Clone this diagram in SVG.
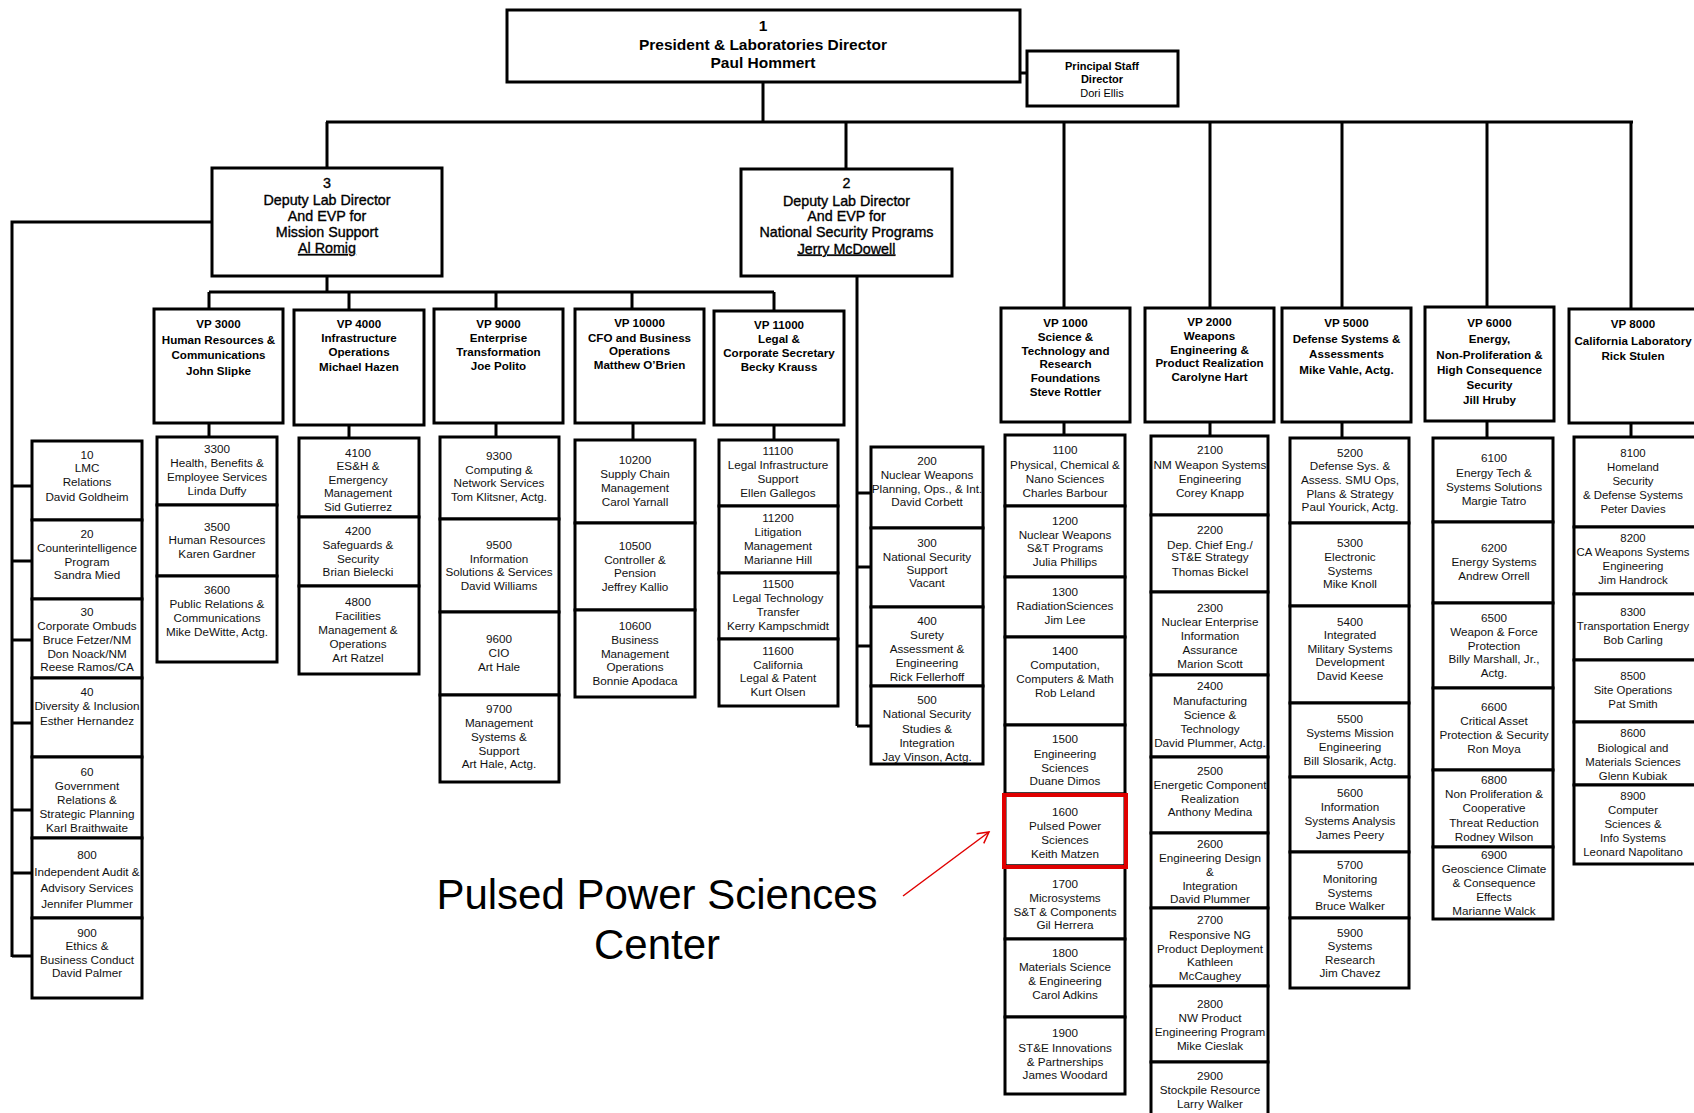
<svg xmlns="http://www.w3.org/2000/svg" width="1694" height="1113" viewBox="0 0 1694 1113">
<style>
.b{fill:#fff;stroke:#000;stroke-width:3}
.c{stroke:#000;stroke-width:3;fill:none}
text{font-family:"Liberation Sans",Arial,sans-serif;text-anchor:middle;fill:#111}
.t{font-size:11.7px}
.t8{font-size:11.4px}
.vp{font-size:11.6px;font-weight:bold;fill:#000}
.dep{font-size:14.3px;fill:#000;stroke:#000;stroke-width:0.35}
.pres{font-size:15.5px;font-weight:bold;fill:#000}
.ps{font-size:11px;font-weight:bold;fill:#000}
.big{font-size:42px;fill:#000}
</style>
<defs>
<marker id="ah" markerWidth="14" markerHeight="14" refX="12" refY="7" orient="auto" markerUnits="userSpaceOnUse">
<path d="M1,1 L12,7 L1,13" fill="none" stroke="#e00000" stroke-width="1.5"/>
</marker>
</defs>
<rect width="1694" height="1113" fill="#fff"/>

<g id="connectors">
<path class="c" d="M763,82 V122 M326,122 H1633 M1020,73 H1027"/>
<path class="c" d="M327,122 V168 M846,122 V169 M1064,122 V308 M1210,122 V308 M1342,122 V308 M1487,122 V308 M1631,122 V309"/>
<path class="c" d="M327,276 V292 M209,292 H774 M209,292 V309 M349,292 V310 M496,292 V309 M632,292 V309 M774,292 V311"/>
<path class="c" d="M212,222 H12 V957 M12,486 H32 M12,561 H32 M12,640 H32 M12,723 H32 M12,810 H32 M12,873 H32 M12,956 H32"/>
<path class="c" d="M857,276 V726 M857,493 H871 M857,567 H871 M857,646 H871 M857,726 H871"/>
<path class="c" d="M209,423 V437 M349,425 V438 M496,423 V437 M633,423 V440 M774,425 V440"/>
<path class="c" d="M1064,422 V435 M1210,422 V436 M1342,422 V438 M1487,421 V438 M1631,423 V437"/>
<line x1="903" y1="896" x2="989" y2="832" stroke="#e00000" stroke-width="1.5" marker-end="url(#ah)"/>
</g>

<g id="n1"><rect class="b" x="507" y="10" width="513" height="72"/>
<text class="pres"><tspan x="763" y="31">1</tspan><tspan x="763" y="50">President &amp; Laboratories Director</tspan><tspan x="763" y="68">Paul Hommert</tspan></text></g>
<g id="nps"><rect class="b" x="1027" y="51" width="151" height="55"/>
<text class="ps"><tspan x="1102" y="69.5">Principal Staff</tspan><tspan x="1102" y="83">Director</tspan><tspan x="1102" y="96.5" font-weight="normal">Dori Ellis</tspan></text></g>

<g id="n3"><rect class="b" x="212" y="168" width="230" height="108"/>
<text class="dep"><tspan x="327" y="188">3</tspan><tspan x="327" y="205">Deputy Lab Director</tspan><tspan x="327" y="221">And EVP for</tspan><tspan x="327" y="237">Mission Support</tspan><tspan x="327" y="253" text-decoration="underline">Al Romig</tspan></text></g>
<g id="n2"><rect class="b" x="741" y="169" width="211" height="107"/>
<text class="dep"><tspan x="846.5" y="188">2</tspan><tspan x="846.5" y="205.5">Deputy Lab Director</tspan><tspan x="846.5" y="221">And EVP for</tspan><tspan x="846.5" y="237">National Security Programs</tspan><tspan x="846.5" y="253.5" text-decoration="underline">Jerry McDowell</tspan></text></g>

<g id="vp3000"><rect class="b" x="154" y="309" width="129" height="114"/>
<text class="vp"><tspan x="218.5" y="328">VP 3000</tspan><tspan x="218.5" y="344">Human Resources &amp;</tspan><tspan x="218.5" y="359">Communications</tspan><tspan x="218.5" y="375">John Slipke</tspan></text></g>
<g id="vp4000"><rect class="b" x="294" y="310" width="130" height="115"/>
<text class="vp"><tspan x="359" y="328">VP 4000</tspan><tspan x="359" y="342">Infrastructure</tspan><tspan x="359" y="356">Operations</tspan><tspan x="359" y="371">Michael Hazen</tspan></text></g>
<g id="vp9000"><rect class="b" x="434" y="309" width="129" height="114"/>
<text class="vp"><tspan x="498.5" y="328">VP 9000</tspan><tspan x="498.5" y="342">Enterprise</tspan><tspan x="498.5" y="356">Transformation</tspan><tspan x="498.5" y="370">Joe Polito</tspan></text></g>
<g id="vp10000"><rect class="b" x="575" y="309" width="129" height="114"/>
<text class="vp"><tspan x="639.5" y="327">VP 10000</tspan><tspan x="639.5" y="342">CFO and Business</tspan><tspan x="639.5" y="355">Operations</tspan><tspan x="639.5" y="369">Matthew O’Brien</tspan></text></g>
<g id="vp11000"><rect class="b" x="714" y="311" width="130" height="114"/>
<text class="vp"><tspan x="779" y="329">VP 11000</tspan><tspan x="779" y="343">Legal &amp;</tspan><tspan x="779" y="357">Corporate Secretary</tspan><tspan x="779" y="371">Becky Krauss</tspan></text></g>

<g id="vp1000"><rect class="b" x="1001" y="308" width="129" height="114"/>
<text class="vp"><tspan x="1065.5" y="327">VP 1000</tspan><tspan x="1065.5" y="341">Science &amp;</tspan><tspan x="1065.5" y="355">Technology and</tspan><tspan x="1065.5" y="368">Research</tspan><tspan x="1065.5" y="382">Foundations</tspan><tspan x="1065.5" y="396">Steve Rottler</tspan></text></g>
<g id="vp2000"><rect class="b" x="1145" y="308" width="129" height="114"/>
<text class="vp"><tspan x="1209.5" y="326">VP 2000</tspan><tspan x="1209.5" y="340">Weapons</tspan><tspan x="1209.5" y="354">Engineering &amp;</tspan><tspan x="1209.5" y="367">Product Realization</tspan><tspan x="1209.5" y="381">Carolyne Hart</tspan></text></g>
<g id="vp5000"><rect class="b" x="1282" y="308" width="129" height="114"/>
<text class="vp"><tspan x="1346.5" y="327">VP 5000</tspan><tspan x="1346.5" y="343">Defense Systems &amp;</tspan><tspan x="1346.5" y="358">Assessments</tspan><tspan x="1346.5" y="374">Mike Vahle, Actg.</tspan></text></g>
<g id="vp6000"><rect class="b" x="1425" y="307" width="129" height="114"/>
<text class="vp"><tspan x="1489.5" y="327">VP 6000</tspan><tspan x="1489.5" y="343">Energy,</tspan><tspan x="1489.5" y="359">Non-Proliferation &amp;</tspan><tspan x="1489.5" y="374">High Consequence</tspan><tspan x="1489.5" y="389">Security</tspan><tspan x="1489.5" y="404">Jill Hruby</tspan></text></g>
<g id="vp8000"><rect class="b" x="1569" y="309" width="131" height="114"/>
<text class="vp"><tspan x="1633" y="328">VP 8000</tspan><tspan x="1633" y="345">California Laboratory</tspan><tspan x="1633" y="360">Rick Stulen</tspan></text></g>

<g id="o10"><rect class="b" x="32" y="441" width="110" height="79"/><text class="t"><tspan x="87" y="459">10</tspan><tspan x="87" y="472">LMC</tspan><tspan x="87" y="486">Relations</tspan><tspan x="87" y="501">David Goldheim</tspan></text></g>
<g id="o20"><rect class="b" x="32" y="520" width="110" height="79"/><text class="t"><tspan x="87" y="538">20</tspan><tspan x="87" y="552">Counterintelligence</tspan><tspan x="87" y="566">Program</tspan><tspan x="87" y="579">Sandra Mied</tspan></text></g>
<g id="o30"><rect class="b" x="32" y="599" width="110" height="79"/><text class="t"><tspan x="87" y="616">30</tspan><tspan x="87" y="630">Corporate Ombuds</tspan><tspan x="87" y="644">Bruce Fetzer/NM</tspan><tspan x="87" y="658">Don Noack/NM</tspan><tspan x="87" y="671">Reese Ramos/CA</tspan></text></g>
<g id="o40"><rect class="b" x="32" y="678" width="110" height="79"/><text class="t"><tspan x="87" y="696">40</tspan><tspan x="87" y="710">Diversity &amp; Inclusion</tspan><tspan x="87" y="725">Esther Hernandez</tspan></text></g>
<g id="o60"><rect class="b" x="32" y="757" width="110" height="81"/><text class="t"><tspan x="87" y="776">60</tspan><tspan x="87" y="790">Government</tspan><tspan x="87" y="804">Relations &amp;</tspan><tspan x="87" y="818">Strategic Planning</tspan><tspan x="87" y="832">Karl Braithwaite</tspan></text></g>
<g id="o800"><rect class="b" x="32" y="838" width="110" height="80"/><text class="t"><tspan x="87" y="859">800</tspan><tspan x="87" y="876">Independent Audit &amp;</tspan><tspan x="87" y="892">Advisory Services</tspan><tspan x="87" y="908">Jennifer Plummer</tspan></text></g>
<g id="o900"><rect class="b" x="32" y="918" width="110" height="80"/><text class="t"><tspan x="87" y="937">900</tspan><tspan x="87" y="950">Ethics &amp;</tspan><tspan x="87" y="964">Business Conduct</tspan><tspan x="87" y="977">David Palmer</tspan></text></g>

<g id="o3300"><rect class="b" x="157" y="437" width="120" height="68"/><text class="t"><tspan x="217" y="453">3300</tspan><tspan x="217" y="467">Health, Benefits &amp;</tspan><tspan x="217" y="481">Employee Services</tspan><tspan x="217" y="495">Linda Duffy</tspan></text></g>
<g id="o3500"><rect class="b" x="157" y="505" width="120" height="71"/><text class="t"><tspan x="217" y="531">3500</tspan><tspan x="217" y="544">Human Resources</tspan><tspan x="217" y="558">Karen Gardner</tspan></text></g>
<g id="o3600"><rect class="b" x="157" y="576" width="120" height="86"/><text class="t"><tspan x="217" y="594">3600</tspan><tspan x="217" y="608">Public Relations &amp;</tspan><tspan x="217" y="622">Communications</tspan><tspan x="217" y="636">Mike DeWitte, Actg.</tspan></text></g>

<g id="o4100"><rect class="b" x="299" y="438" width="120" height="79"/><text class="t"><tspan x="358" y="457">4100</tspan><tspan x="358" y="470">ES&amp;H &amp;</tspan><tspan x="358" y="484">Emergency</tspan><tspan x="358" y="497">Management</tspan><tspan x="358" y="511">Sid Gutierrez</tspan></text></g>
<g id="o4200"><rect class="b" x="299" y="517" width="120" height="69"/><text class="t"><tspan x="358" y="535">4200</tspan><tspan x="358" y="549">Safeguards &amp;</tspan><tspan x="358" y="563">Security</tspan><tspan x="358" y="576">Brian Bielecki</tspan></text></g>
<g id="o4800"><rect class="b" x="299" y="586" width="120" height="88"/><text class="t"><tspan x="358" y="606">4800</tspan><tspan x="358" y="620">Facilities</tspan><tspan x="358" y="634">Management &amp;</tspan><tspan x="358" y="648">Operations</tspan><tspan x="358" y="662">Art Ratzel</tspan></text></g>

<g id="o9300"><rect class="b" x="440" y="437" width="119" height="82"/><text class="t"><tspan x="499" y="460">9300</tspan><tspan x="499" y="474">Computing &amp;</tspan><tspan x="499" y="487">Network Services</tspan><tspan x="499" y="501">Tom Klitsner, Actg.</tspan></text></g>
<g id="o9500"><rect class="b" x="440" y="519" width="119" height="93"/><text class="t"><tspan x="499" y="549">9500</tspan><tspan x="499" y="563">Information</tspan><tspan x="499" y="576">Solutions &amp; Services</tspan><tspan x="499" y="590">David Williams</tspan></text></g>
<g id="o9600"><rect class="b" x="440" y="612" width="119" height="83"/><text class="t"><tspan x="499" y="643">9600</tspan><tspan x="499" y="657">CIO</tspan><tspan x="499" y="671">Art Hale</tspan></text></g>
<g id="o9700"><rect class="b" x="440" y="695" width="119" height="87"/><text class="t"><tspan x="499" y="713">9700</tspan><tspan x="499" y="727">Management</tspan><tspan x="499" y="741">Systems &amp;</tspan><tspan x="499" y="755">Support</tspan><tspan x="499" y="768">Art Hale, Actg.</tspan></text></g>

<g id="o10200"><rect class="b" x="575" y="440" width="120" height="83"/><text class="t"><tspan x="635" y="464">10200</tspan><tspan x="635" y="478">Supply Chain</tspan><tspan x="635" y="492">Management</tspan><tspan x="635" y="506">Carol Yarnall</tspan></text></g>
<g id="o10500"><rect class="b" x="575" y="523" width="120" height="87"/><text class="t"><tspan x="635" y="550">10500</tspan><tspan x="635" y="564">Controller &amp;</tspan><tspan x="635" y="577">Pension</tspan><tspan x="635" y="591">Jeffrey Kallio</tspan></text></g>
<g id="o10600"><rect class="b" x="575" y="610" width="120" height="87"/><text class="t"><tspan x="635" y="630">10600</tspan><tspan x="635" y="644">Business</tspan><tspan x="635" y="658">Management</tspan><tspan x="635" y="671">Operations</tspan><tspan x="635" y="685">Bonnie Apodaca</tspan></text></g>

<g id="o11100"><rect class="b" x="719" y="440" width="119" height="66"/><text class="t"><tspan x="778" y="455">11100</tspan><tspan x="778" y="469">Legal Infrastructure</tspan><tspan x="778" y="483">Support</tspan><tspan x="778" y="497">Ellen Gallegos</tspan></text></g>
<g id="o11200"><rect class="b" x="719" y="506" width="119" height="67"/><text class="t"><tspan x="778" y="522">11200</tspan><tspan x="778" y="536">Litigation</tspan><tspan x="778" y="550">Management</tspan><tspan x="778" y="564">Marianne Hill</tspan></text></g>
<g id="o11500"><rect class="b" x="719" y="573" width="119" height="66"/><text class="t"><tspan x="778" y="588">11500</tspan><tspan x="778" y="602">Legal Technology</tspan><tspan x="778" y="616">Transfer</tspan><tspan x="778" y="630">Kerry Kampschmidt</tspan></text></g>
<g id="o11600"><rect class="b" x="719" y="639" width="119" height="67"/><text class="t"><tspan x="778" y="655">11600</tspan><tspan x="778" y="669">California</tspan><tspan x="778" y="682">Legal &amp; Patent</tspan><tspan x="778" y="696">Kurt Olsen</tspan></text></g>

<g id="o200"><rect class="b" x="871" y="447" width="112" height="81"/><text class="t"><tspan x="927" y="465">200</tspan><tspan x="927" y="479">Nuclear Weapons</tspan><tspan x="927" y="493">Planning, Ops., &amp; Int.</tspan><tspan x="927" y="506">David Corbett</tspan></text></g>
<g id="o300"><rect class="b" x="871" y="528" width="112" height="79"/><text class="t"><tspan x="927" y="547">300</tspan><tspan x="927" y="561">National Security</tspan><tspan x="927" y="574">Support</tspan><tspan x="927" y="587">Vacant</tspan></text></g>
<g id="o400"><rect class="b" x="871" y="607" width="112" height="79"/><text class="t"><tspan x="927" y="625">400</tspan><tspan x="927" y="639">Surety</tspan><tspan x="927" y="653">Assessment &amp;</tspan><tspan x="927" y="667">Engineering</tspan><tspan x="927" y="681">Rick Fellerhoff</tspan></text></g>
<g id="o500"><rect class="b" x="871" y="686" width="112" height="78"/><text class="t"><tspan x="927" y="704">500</tspan><tspan x="927" y="718">National Security</tspan><tspan x="927" y="733">Studies &amp;</tspan><tspan x="927" y="747">Integration</tspan><tspan x="927" y="761">Jay Vinson, Actg.</tspan></text></g>

<g id="o1100"><rect class="b" x="1005" y="435" width="120" height="71"/><text class="t"><tspan x="1065" y="454">1100</tspan><tspan x="1065" y="469">Physical, Chemical &amp;</tspan><tspan x="1065" y="483">Nano Sciences</tspan><tspan x="1065" y="497">Charles Barbour</tspan></text></g>
<g id="o1200"><rect class="b" x="1005" y="506" width="120" height="71"/><text class="t"><tspan x="1065" y="525">1200</tspan><tspan x="1065" y="539">Nuclear Weapons</tspan><tspan x="1065" y="552">S&amp;T Programs</tspan><tspan x="1065" y="566">Julia Phillips</tspan></text></g>
<g id="o1300"><rect class="b" x="1005" y="577" width="120" height="60"/><text class="t"><tspan x="1065" y="596">1300</tspan><tspan x="1065" y="610">RadiationSciences</tspan><tspan x="1065" y="624">Jim Lee</tspan></text></g>
<g id="o1400"><rect class="b" x="1005" y="637" width="120" height="88"/><text class="t"><tspan x="1065" y="655">1400</tspan><tspan x="1065" y="669">Computation,</tspan><tspan x="1065" y="683">Computers &amp; Math</tspan><tspan x="1065" y="697">Rob Leland</tspan></text></g>
<g id="o1500"><rect class="b" x="1005" y="725" width="120" height="69"/><text class="t"><tspan x="1065" y="743">1500</tspan><tspan x="1065" y="758">Engineering</tspan><tspan x="1065" y="772">Sciences</tspan><tspan x="1065" y="785">Duane Dimos</tspan></text></g>
<g id="o1600"><rect class="b" x="1005" y="794" width="120" height="72"/><text class="t"><tspan x="1065" y="816">1600</tspan><tspan x="1065" y="830">Pulsed Power</tspan><tspan x="1065" y="844">Sciences</tspan><tspan x="1065" y="858">Keith Matzen</tspan></text></g>
<g id="o1700"><rect class="b" x="1005" y="866" width="120" height="73"/><text class="t"><tspan x="1065" y="888">1700</tspan><tspan x="1065" y="902">Microsystems</tspan><tspan x="1065" y="916">S&amp;T &amp; Components</tspan><tspan x="1065" y="929">Gil Herrera</tspan></text></g>
<g id="o1800"><rect class="b" x="1005" y="939" width="120" height="78"/><text class="t"><tspan x="1065" y="957">1800</tspan><tspan x="1065" y="971">Materials Science</tspan><tspan x="1065" y="985">&amp; Engineering</tspan><tspan x="1065" y="999">Carol Adkins</tspan></text></g>
<g id="o1900"><rect class="b" x="1005" y="1017" width="120" height="77"/><text class="t"><tspan x="1065" y="1037">1900</tspan><tspan x="1065" y="1052">ST&amp;E Innovations</tspan><tspan x="1065" y="1066">&amp; Partnerships</tspan><tspan x="1065" y="1079">James Woodard</tspan></text></g>

<g id="o2100"><rect class="b" x="1151" y="436" width="117" height="79"/><text class="t"><tspan x="1210" y="454">2100</tspan><tspan x="1210" y="469">NM Weapon Systems</tspan><tspan x="1210" y="483">Engineering</tspan><tspan x="1210" y="497">Corey Knapp</tspan></text></g>
<g id="o2200"><rect class="b" x="1151" y="515" width="117" height="77"/><text class="t"><tspan x="1210" y="534">2200</tspan><tspan x="1210" y="549">Dep. Chief Eng./</tspan><tspan x="1210" y="561">ST&amp;E Strategy</tspan><tspan x="1210" y="576">Thomas Bickel</tspan></text></g>
<g id="o2300"><rect class="b" x="1151" y="592" width="117" height="83"/><text class="t"><tspan x="1210" y="612">2300</tspan><tspan x="1210" y="626">Nuclear Enterprise</tspan><tspan x="1210" y="640">Information</tspan><tspan x="1210" y="654">Assurance</tspan><tspan x="1210" y="668">Marion Scott</tspan></text></g>
<g id="o2400"><rect class="b" x="1151" y="675" width="117" height="82"/><text class="t"><tspan x="1210" y="690">2400</tspan><tspan x="1210" y="705">Manufacturing</tspan><tspan x="1210" y="719">Science &amp;</tspan><tspan x="1210" y="733">Technology</tspan><tspan x="1210" y="747">David Plummer, Actg.</tspan></text></g>
<g id="o2500"><rect class="b" x="1151" y="757" width="117" height="76"/><text class="t"><tspan x="1210" y="775">2500</tspan><tspan x="1210" y="789">Energetic Component</tspan><tspan x="1210" y="803">Realization</tspan><tspan x="1210" y="816">Anthony Medina</tspan></text></g>
<g id="o2600"><rect class="b" x="1151" y="833" width="117" height="75"/><text class="t"><tspan x="1210" y="848">2600</tspan><tspan x="1210" y="862">Engineering Design</tspan><tspan x="1210" y="876">&amp;</tspan><tspan x="1210" y="890">Integration</tspan><tspan x="1210" y="903">David Plummer</tspan></text></g>
<g id="o2700"><rect class="b" x="1151" y="908" width="117" height="78"/><text class="t"><tspan x="1210" y="924">2700</tspan><tspan x="1210" y="939">Responsive NG</tspan><tspan x="1210" y="953">Product Deployment</tspan><tspan x="1210" y="966">Kathleen</tspan><tspan x="1210" y="980">McCaughey</tspan></text></g>
<g id="o2800"><rect class="b" x="1151" y="986" width="117" height="76"/><text class="t"><tspan x="1210" y="1008">2800</tspan><tspan x="1210" y="1022">NW Product</tspan><tspan x="1210" y="1036">Engineering Program</tspan><tspan x="1210" y="1050">Mike Cieslak</tspan></text></g>
<g id="o2900"><rect class="b" x="1151" y="1062" width="117" height="60"/><text class="t"><tspan x="1210" y="1080">2900</tspan><tspan x="1210" y="1094">Stockpile Resource</tspan><tspan x="1210" y="1108">Larry Walker</tspan></text></g>

<g id="o5200"><rect class="b" x="1290" y="438" width="119" height="85"/><text class="t"><tspan x="1350" y="457">5200</tspan><tspan x="1350" y="470">Defense Sys. &amp;</tspan><tspan x="1350" y="484">Assess. SMU Ops,</tspan><tspan x="1350" y="498">Plans &amp; Strategy</tspan><tspan x="1350" y="511">Paul Yourick, Actg.</tspan></text></g>
<g id="o5300"><rect class="b" x="1290" y="523" width="119" height="83"/><text class="t"><tspan x="1350" y="547">5300</tspan><tspan x="1350" y="561">Electronic</tspan><tspan x="1350" y="575">Systems</tspan><tspan x="1350" y="588">Mike Knoll</tspan></text></g>
<g id="o5400"><rect class="b" x="1290" y="606" width="119" height="97"/><text class="t"><tspan x="1350" y="626">5400</tspan><tspan x="1350" y="639">Integrated</tspan><tspan x="1350" y="653">Military  Systems</tspan><tspan x="1350" y="666">Development</tspan><tspan x="1350" y="680">David Keese</tspan></text></g>
<g id="o5500"><rect class="b" x="1290" y="703" width="119" height="74"/><text class="t"><tspan x="1350" y="723">5500</tspan><tspan x="1350" y="737">Systems Mission</tspan><tspan x="1350" y="751">Engineering</tspan><tspan x="1350" y="765">Bill Slosarik, Actg.</tspan></text></g>
<g id="o5600"><rect class="b" x="1290" y="777" width="119" height="75"/><text class="t"><tspan x="1350" y="797">5600</tspan><tspan x="1350" y="811">Information</tspan><tspan x="1350" y="825">Systems Analysis</tspan><tspan x="1350" y="839">James Peery</tspan></text></g>
<g id="o5700"><rect class="b" x="1290" y="852" width="119" height="66"/><text class="t"><tspan x="1350" y="869">5700</tspan><tspan x="1350" y="883">Monitoring</tspan><tspan x="1350" y="897">Systems</tspan><tspan x="1350" y="910">Bruce Walker</tspan></text></g>
<g id="o5900"><rect class="b" x="1290" y="918" width="119" height="70"/><text class="t"><tspan x="1350" y="937">5900</tspan><tspan x="1350" y="950">Systems</tspan><tspan x="1350" y="964">Research</tspan><tspan x="1350" y="977">Jim Chavez</tspan></text></g>

<g id="o6100"><rect class="b" x="1433" y="438" width="120" height="84"/><text class="t"><tspan x="1494" y="462">6100</tspan><tspan x="1494" y="477">Energy Tech &amp;</tspan><tspan x="1494" y="491">Systems Solutions</tspan><tspan x="1494" y="505">Margie Tatro</tspan></text></g>
<g id="o6200"><rect class="b" x="1433" y="522" width="120" height="81"/><text class="t"><tspan x="1494" y="552">6200</tspan><tspan x="1494" y="566">Energy Systems</tspan><tspan x="1494" y="580">Andrew Orrell</tspan></text></g>
<g id="o6500"><rect class="b" x="1433" y="603" width="120" height="85"/><text class="t"><tspan x="1494" y="622">6500</tspan><tspan x="1494" y="636">Weapon &amp; Force</tspan><tspan x="1494" y="650">Protection</tspan><tspan x="1494" y="663">Billy Marshall, Jr.,</tspan><tspan x="1494" y="677">Actg.</tspan></text></g>
<g id="o6600"><rect class="b" x="1433" y="688" width="120" height="82"/><text class="t"><tspan x="1494" y="711">6600</tspan><tspan x="1494" y="725">Critical Asset</tspan><tspan x="1494" y="739">Protection &amp; Security</tspan><tspan x="1494" y="753">Ron Moya</tspan></text></g>
<g id="o6800"><rect class="b" x="1433" y="770" width="120" height="77"/><text class="t"><tspan x="1494" y="784">6800</tspan><tspan x="1494" y="798">Non Proliferation &amp;</tspan><tspan x="1494" y="812">Cooperative</tspan><tspan x="1494" y="827">Threat Reduction</tspan><tspan x="1494" y="841">Rodney Wilson</tspan></text></g>
<g id="o6900"><rect class="b" x="1433" y="847" width="120" height="72"/><text class="t"><tspan x="1494" y="859">6900</tspan><tspan x="1494" y="873">Geoscience Climate</tspan><tspan x="1494" y="887">&amp; Consequence</tspan><tspan x="1494" y="901">Effects</tspan><tspan x="1494" y="915">Marianne Walck</tspan></text></g>

<g id="o8100"><rect class="b" x="1574" y="437" width="138" height="90"/><text class="t8"><tspan x="1633" y="457">8100</tspan><tspan x="1633" y="471">Homeland</tspan><tspan x="1633" y="485">Security</tspan><tspan x="1633" y="499">&amp; Defense Systems</tspan><tspan x="1633" y="513">Peter Davies</tspan></text></g>
<g id="o8200"><rect class="b" x="1574" y="527" width="138" height="67"/><text class="t8"><tspan x="1633" y="542">8200</tspan><tspan x="1633" y="556">CA Weapons Systems</tspan><tspan x="1633" y="570">Engineering</tspan><tspan x="1633" y="584">Jim Handrock</tspan></text></g>
<g id="o8300"><rect class="b" x="1574" y="594" width="138" height="66"/><text class="t8"><tspan x="1633" y="616">8300</tspan><tspan x="1633" y="630">Transportation Energy</tspan><tspan x="1633" y="644">Bob Carling</tspan></text></g>
<g id="o8500"><rect class="b" x="1574" y="660" width="138" height="62"/><text class="t8"><tspan x="1633" y="680">8500</tspan><tspan x="1633" y="694">Site Operations</tspan><tspan x="1633" y="708">Pat Smith</tspan></text></g>
<g id="o8600"><rect class="b" x="1574" y="722" width="138" height="63"/><text class="t8"><tspan x="1633" y="737">8600</tspan><tspan x="1633" y="752">Biological and</tspan><tspan x="1633" y="766">Materials Sciences</tspan><tspan x="1633" y="780">Glenn Kubiak</tspan></text></g>
<g id="o8900"><rect class="b" x="1574" y="785" width="138" height="79"/><text class="t8"><tspan x="1633" y="800">8900</tspan><tspan x="1633" y="814">Computer</tspan><tspan x="1633" y="828">Sciences &amp;</tspan><tspan x="1633" y="842">Info Systems</tspan><tspan x="1633" y="856">Leonard Napolitano</tspan></text></g>

<g id="highlight"><rect x="1004" y="795" width="122" height="72" fill="none" stroke="#e00000" stroke-width="4"/></g>
<g id="callout"><text class="big"><tspan x="657" y="909">Pulsed Power Sciences</tspan><tspan x="657" y="959">Center</tspan></text></g>
</svg>
